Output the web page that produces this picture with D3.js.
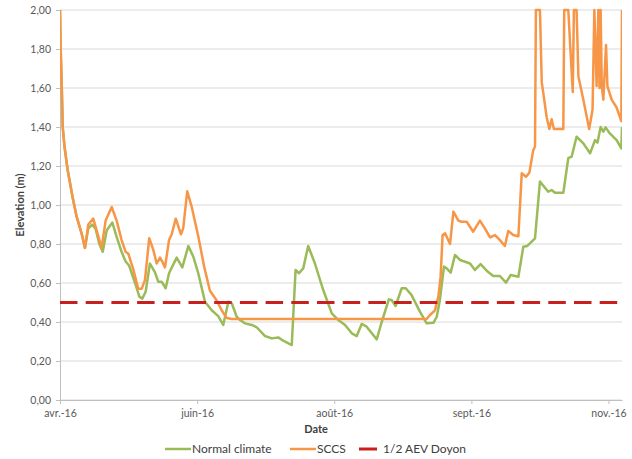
<!DOCTYPE html>
<html>
<head>
<meta charset="utf-8">
<script src="https://cdn.jsdelivr.net/npm/d3@7"></script>
<style>
body { margin: 0; background: #fff; }
text { font-family: Lato, "Liberation Sans", sans-serif; }
</style>
</head>
<body>
<div class="container"></div>
<script>
// days since 1 April 2016
var sccsDays = [0, 0.3, 0.8, 1.2, 2.0, 3.4, 5.6, 7.4, 9.7, 11.1, 12.6, 14.8, 16.3, 18.5, 20.3, 23.0, 25.2, 27.4, 29.2, 30.4,
    32.6, 34.8, 36.3, 37.8, 39.7, 41.5, 43.0, 44.5, 45.5, 46.7, 48.5, 49.7, 51.5, 53.8, 54.8, 56.6, 58.6, 61.5, 64.2, 66.7,
    69.7, 71.9, 74.2, 76.4, 163.1, 164.6, 166.8, 168.3, 169.3, 170.2, 171.3, 173.5, 175.0, 177.2, 178.7, 180.9, 183.8, 186.8, 189.0, 191.3,
    193.5, 195.7, 197.9, 199.4, 201.6, 203.9, 205.4, 207.3, 208.8, 210.5, 211.3, 211.7, 213.5, 214.3, 216.5, 217.7, 218.7, 219.7, 223.9, 224.3,
    226.1, 228.1, 228.6, 229.8, 230.6, 232.8, 235.4, 236.9, 237.7, 238.7, 239.5, 240.0, 240.5, 241.0, 241.7, 242.9, 243.5, 245.4, 247.6, 249.7, 250];
var sccsValues = [2.00, 1.80, 1.60, 1.40, 1.30, 1.18, 1.04, 0.94, 0.85, 0.78, 0.90, 0.93, 0.87, 0.78, 0.92, 0.99, 0.92, 0.82, 0.76, 0.75,
    0.67, 0.57, 0.57, 0.615, 0.83, 0.77, 0.70, 0.73, 0.71, 0.68, 0.82, 0.85, 0.93, 0.85, 0.88, 1.07, 0.99, 0.84, 0.68, 0.56,
    0.51, 0.46, 0.42, 0.415, 0.415, 0.436, 0.46, 0.53, 0.63, 0.846, 0.855, 0.80, 0.966, 0.92, 0.914, 0.914, 0.863, 0.92, 0.88, 0.834,
    0.846, 0.82, 0.79, 0.867, 0.846, 0.84, 1.163, 1.145, 1.166, 1.28, 1.30, 2.00, 2.00, 1.63, 1.45, 1.39, 1.44, 1.39, 1.39, 2.00,
    2.00, 1.58, 2.00, 2.00, 1.66, 1.54, 1.39, 1.49, 2.00, 1.61, 2.00, 1.60, 2.00, 1.61, 1.54, 1.82, 1.61, 1.54, 1.50, 1.43, 2.00];

var normalDays = [0, 0.3, 0.8, 1.2, 2.0, 3.4, 5.6, 7.4, 9.7, 11.1, 12.6, 14.4, 15.9, 17.5, 19.0, 20.8, 23.3, 25.2, 27.4, 29.2,
    30.7, 33.4, 35.3, 36.6, 38.1, 40.0, 42.3, 43.7, 45.2, 47.0, 48.5, 51.9, 54.4, 57.1, 59.3, 61.5, 64.5, 67.5, 70.4, 72.6,
    74.9, 76.4, 78.6, 80.1, 82.3, 85.3, 87.5, 91.2, 94.2, 97.1, 99.3, 103.1, 104.8, 106.3, 108.2, 110.4, 113.4, 117.1, 120.9, 123.8,
    126.8, 129.8, 132.0, 134.2, 136.4, 140.9, 143.1, 146.3, 147.5, 149.3, 152.0, 153.8, 156.4, 160.1, 163.1, 166.1, 167.6, 169.0, 170.8, 172.0,
    173.8, 175.7, 177.9, 180.2, 182.4, 184.6, 187.1, 189.8, 192.7, 195.7, 198.4, 200.5, 203.9, 206.1, 207.9, 211.3, 213.5, 217.2, 218.7, 220.2,
    223.9, 226.1, 227.6, 229.8, 232.8, 235.8, 238.0, 239.1, 240.5, 241.7, 242.7, 244.6, 247.6, 249.7, 250];
var normalValues = [2.00, 1.80, 1.60, 1.40, 1.30, 1.18, 1.04, 0.94, 0.85, 0.78, 0.88, 0.90, 0.875, 0.80, 0.76, 0.87, 0.91, 0.837, 0.76, 0.71,
    0.69, 0.60, 0.53, 0.52, 0.555, 0.70, 0.653, 0.607, 0.607, 0.573, 0.65, 0.73, 0.68, 0.79, 0.735, 0.65, 0.504, 0.46, 0.43, 0.385,
    0.504, 0.496, 0.427, 0.41, 0.393, 0.385, 0.373, 0.328, 0.316, 0.321, 0.304, 0.282, 0.667, 0.65, 0.675, 0.79, 0.70, 0.564, 0.444, 0.41,
    0.385, 0.342, 0.328, 0.39, 0.376, 0.311, 0.40, 0.516, 0.513, 0.482, 0.573, 0.573, 0.538, 0.453, 0.393, 0.396, 0.427, 0.513, 0.684, 0.675,
    0.653, 0.744, 0.718, 0.709, 0.70, 0.667, 0.697, 0.663, 0.636, 0.636, 0.602, 0.641, 0.632, 0.786, 0.79, 0.829, 1.12, 1.068, 1.077, 1.063,
    1.063, 1.24, 1.248, 1.35, 1.316, 1.265, 1.333, 1.32, 1.40, 1.376, 1.398, 1.367, 1.333, 1.29, 1.40];

var aevLevel = 0.5;
var tickDays = [0, 61, 122, 183, 244];
var tickLabels = ["avr.-16", "juin-16", "août-16", "sept.-16", "nov.-16"];
var yTicks = [0, 0.2, 0.4, 0.6, 0.8, 1.0, 1.2, 1.4, 1.6, 1.8, 2.0];
var seriesNames = ["Normal climate", "SCCS", "1/2 AEV Doyon"];
var seriesColors = ["#9BBB59", "#F79646", "#C8201F"];

var width = 632, height = 459;
var plot = { left: 60, right: 622, top: 10, bottom: 400 };

var svg = d3.select("body").select(".container")
    .append("svg")
    .attr("width", width)
    .attr("height", height);

var x = d3.scaleLinear().domain([0, 250]).range([plot.left, plot.right]);
var y = d3.scaleLinear().domain([0, 2]).range([plot.bottom, plot.top]);

var fmt = function(d) { return d3.format(".2f")(d).replace(".", ","); };

// gridlines
svg.append("g")
    .selectAll("line")
    .data(yTicks)
    .enter()
    .append("line")
    .attr("x1", plot.left).attr("x2", plot.right)
    .attr("y1", function(d) { return y(d); })
    .attr("y2", function(d) { return y(d); })
    .attr("stroke", "#D9D9D9")
    .attr("stroke-width", 1);

var yAxis = svg.append("g")
    .attr("transform", "translate(" + plot.left + ",0)")
    .call(d3.axisLeft(y).tickValues(yTicks).tickFormat(fmt).tickSize(4).tickPadding(5));
yAxis.select(".domain").attr("stroke", "#BFBFBF");
yAxis.selectAll(".tick line").attr("stroke", "#BFBFBF");
yAxis.selectAll("text").attr("fill", "#595959").style("font-size", "10.5px");

var xAxis = svg.append("g")
    .attr("transform", "translate(0," + plot.bottom + ")")
    .call(d3.axisBottom(x).tickValues(tickDays)
        .tickFormat(function(d, i) { return tickLabels[i]; })
        .tickSize(4).tickSizeOuter(0).tickPadding(6));
xAxis.select(".domain").attr("stroke", "#BFBFBF");
xAxis.selectAll(".tick line").attr("stroke", "#BFBFBF");
xAxis.selectAll("text").attr("fill", "#595959").style("font-size", "10.5px");

svg.append("text")
    .attr("x", 316).attr("y", 433)
    .attr("text-anchor", "middle")
    .style("font-size", "11px").style("font-weight", "bold")
    .attr("fill", "#404040")
    .text("Date");

svg.append("text")
    .attr("transform", "translate(24," + ((plot.top + plot.bottom) / 2) + ") rotate(-90)")
    .attr("text-anchor", "middle")
    .style("font-size", "11px").style("font-weight", "bold")
    .attr("fill", "#404040")
    .text("Elevation (m)");

svg.append("clipPath").attr("id", "plotclip")
    .append("rect")
    .attr("x", plot.left).attr("y", plot.top - 2)
    .attr("width", plot.right - plot.left).attr("height", plot.bottom - plot.top + 2);

var line = d3.line()
    .x(function(d) { return x(d[0]); })
    .y(function(d) { return y(d[1]); });

var normalData = d3.zip(normalDays, normalValues);
var sccsData = d3.zip(sccsDays, sccsValues);

var lines = svg.append("g").attr("clip-path", "url(#plotclip)");

lines.append("path")
    .datum(normalData)
    .attr("fill", "none")
    .attr("stroke", seriesColors[0])
    .attr("stroke-width", 2.5)
    .attr("stroke-linejoin", "round")
    .attr("d", line);

lines.append("path")
    .datum(sccsData)
    .attr("fill", "none")
    .attr("stroke", seriesColors[1])
    .attr("stroke-width", 2.5)
    .attr("stroke-linejoin", "round")
    .attr("d", line);

lines.append("line")
    .attr("x1", x(0)).attr("x2", x(250))
    .attr("y1", y(aevLevel)).attr("y2", y(aevLevel))
    .attr("stroke", seriesColors[2])
    .attr("stroke-width", 3)
    .attr("stroke-dasharray", "17.5,8.2");

// legend
var legendX = [165, 290, 359];
var legend = svg.append("g");
seriesNames.forEach(function(name, i) {
    var g = legend.append("g").attr("transform", "translate(" + legendX[i] + ",449)");
    g.append("line")
        .attr("x1", 0).attr("x2", i == 2 ? 18 : 26)
        .attr("y1", 0).attr("y2", 0)
        .attr("stroke", seriesColors[i])
        .attr("stroke-width", i == 2 ? 3 : 2.5);
    g.append("text")
        .attr("x", i == 2 ? 24 : 27)
        .attr("y", 4)
        .style("font-size", "12px")
        .attr("fill", "#404040")
        .text(name);
});
</script>
</body>
</html>
